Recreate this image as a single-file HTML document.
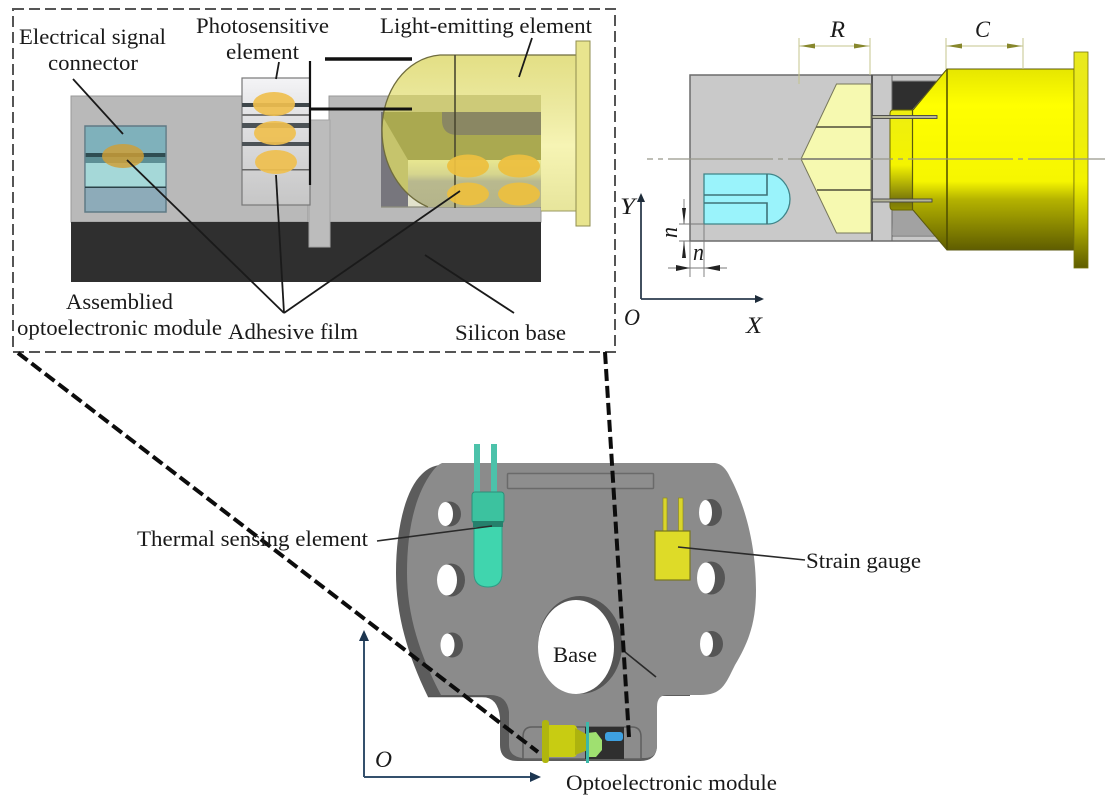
<!DOCTYPE html>
<html>
<head>
<meta charset="utf-8">
<style>
html,body{margin:0;padding:0;background:#fff;width:1107px;height:798px;overflow:hidden}
svg{display:block}
text{font-family:"Liberation Serif",serif;fill:#1a1a1a}
.t{font-size:22px}
.i{font-style:italic;font-size:23px}
</style>
</head>
<body>
<svg width="1107" height="798" viewBox="0 0 1107 798" xmlns="http://www.w3.org/2000/svg">
<defs>
<linearGradient id="yb" x1="0" y1="0" x2="0" y2="1">
<stop offset="0" stop-color="#e6e600"/><stop offset=".2" stop-color="#ffff00"/><stop offset=".62" stop-color="#f6f600"/><stop offset=".72" stop-color="#b5b300"/><stop offset="1" stop-color="#5f5d00"/>
</linearGradient>
<linearGradient id="yf" x1="0" y1="0" x2="0" y2="1">
<stop offset="0" stop-color="#e8e820"/><stop offset=".6" stop-color="#f2f200"/><stop offset=".8" stop-color="#b0ae00"/><stop offset="1" stop-color="#5f5d00"/>
</linearGradient>
<linearGradient id="yn" x1="0" y1="0" x2="0" y2="1">
<stop offset="0" stop-color="#eeee10"/><stop offset=".55" stop-color="#f4f400"/><stop offset=".9" stop-color="#77750a"/><stop offset="1" stop-color="#8f8d00"/>
</linearGradient>
<linearGradient id="ph" x1="0" y1="0" x2="0" y2="1">
<stop offset="0" stop-color="#f4f4f6"/><stop offset=".3" stop-color="#e2e2e4"/><stop offset="1" stop-color="#c6c6c6"/>
</linearGradient>
<linearGradient id="dome" x1="0" y1="0" x2="0" y2="1">
<stop offset="0" stop-color="#e2de82"/><stop offset=".35" stop-color="#ece9a0"/><stop offset=".58" stop-color="#f6f4b4"/><stop offset="1" stop-color="#e6e49a"/>
</linearGradient>
<linearGradient id="lit" x1="0" y1="0" x2="0" y2="1">
<stop offset="0" stop-color="#e8e790"/><stop offset=".3" stop-color="#d6d58e"/><stop offset=".45" stop-color="#b9b98e"/><stop offset="1" stop-color="#b4b48a"/>
</linearGradient>
<clipPath id="emit"><path d="M577 55H440C405 58 382 92 382 130C382 165 400 195 428 207H541V211H577Z"/></clipPath>
</defs>

<!-- ============ Left detail panel ============ -->
<rect x="71" y="96" width="237" height="126" fill="#b9b9b9" stroke="#999" stroke-width="1"/>
<rect x="329" y="96" width="212" height="126" fill="#b9b9b9" stroke="#999" stroke-width="1"/>
<rect x="308" y="120" width="21" height="102" fill="#b9b9b9"/>
<rect x="71" y="222" width="470" height="60" fill="#2f2f2f"/>
<rect x="309" y="120" width="21" height="127" fill="#bcbcbc" stroke="#a5a5a5"/>
<!-- pocket outside the dome -->
<rect x="381" y="112" width="27" height="95" fill="#77767d"/>
<rect x="408" y="160" width="30" height="47" fill="#e2e2cc"/>
<line x1="381" y1="207" x2="541" y2="207" stroke="#8c8c7c" stroke-width="1.200"/>
<!-- light emitter -->
<g clip-path="url(#emit)">
<rect x="375" y="50" width="205" height="165" fill="url(#dome)"/>
<rect x="375" y="95" width="166" height="17" fill="#cdca78"/>
<rect x="375" y="112" width="166" height="48" fill="#aaa950"/>
<path d="M450 112H541V135H458Q442 135 442 120V112Z" fill="#8a8763"/>
<polygon points="380,112 408,160 408,207 380,207" fill="#c6c46c"/>
<rect x="408" y="160" width="133" height="47" fill="url(#lit)"/>
</g>
<path d="M577 55H440C405 58 382 92 382 130C382 165 400 195 428 207" fill="none" stroke="#6f6c3e" stroke-width="1.300"/>
<line x1="577" y1="211" x2="541" y2="211" stroke="#9a9860" stroke-width="1"/>
<rect x="576" y="41" width="14" height="185" fill="#e8e48e" stroke="#8f8d50"/>
<line x1="455" y1="55" x2="455" y2="208" stroke="#4a4830" stroke-width="1.600"/>
<g fill="#ecbf40" fill-opacity=".94">
<ellipse cx="468" cy="166" rx="21" ry="11.500"/><ellipse cx="519" cy="166" rx="21" ry="11.500"/>
<ellipse cx="468" cy="194" rx="21" ry="11.500"/><ellipse cx="519" cy="194" rx="21" ry="11.500"/>
</g>
<!-- connector -->
<rect x="85" y="126" width="81" height="86" fill="#8dabb9" stroke="#5f7a85" stroke-width="1.500"/>
<rect x="85.700" y="127" width="79.600" height="26" fill="#7fb1bb"/>
<rect x="85.700" y="153" width="79.600" height="4" fill="#2f4d52"/>
<rect x="85.700" y="157" width="79.600" height="6" fill="#5d8f95"/>
<rect x="85.700" y="163" width="79.600" height="24" fill="#a5d8d8"/>
<rect x="85" y="186.500" width="81" height="1.500" fill="#2b4248"/>
<ellipse cx="123" cy="156" rx="21" ry="12" fill="#cf9f35" fill-opacity=".82"/>
<!-- photosensitive -->
<rect x="242" y="78" width="68" height="127" fill="url(#ph)" stroke="#777" stroke-width="1.200"/>
<rect x="242" y="103" width="68" height="4" fill="#3e464a"/>
<rect x="242" y="114" width="68" height="2" fill="#777"/>
<rect x="242" y="123" width="68" height="5" fill="#4c5256"/>
<rect x="242" y="142" width="68" height="4" fill="#4c5256"/>
<rect x="242" y="169" width="68" height="1.500" fill="#666"/>
<g fill="#efbf4e" fill-opacity=".92">
<ellipse cx="274" cy="104" rx="21" ry="12"/><ellipse cx="275" cy="133" rx="21" ry="12"/><ellipse cx="276" cy="162" rx="21" ry="12"/>
</g>
<!-- black bars -->
<line x1="310" y1="61" x2="310" y2="185" stroke="#111" stroke-width="2.200"/>
<line x1="325" y1="59" x2="412" y2="59" stroke="#111" stroke-width="3.500"/>
<line x1="310" y1="109" x2="412" y2="109" stroke="#111" stroke-width="3"/>
<!-- leaders -->
<g stroke="#1a1a1a" stroke-width="1.800" fill="none">
<line x1="73" y1="79" x2="123" y2="134"/>
<line x1="284" y1="313" x2="127" y2="160"/>
<line x1="284" y1="313" x2="276" y2="175"/>
<line x1="284" y1="313" x2="460" y2="191"/>
<line x1="279" y1="62" x2="276" y2="79"/>
<line x1="532" y1="38" x2="519" y2="77"/>
<line x1="425" y1="255" x2="514" y2="313"/>
</g>
<rect x="13" y="9" width="602" height="343" fill="none" stroke="#555" stroke-width="2" stroke-dasharray="11 5"/>
<text class="t" x="19" y="44" textLength="147" lengthAdjust="spacingAndGlyphs">Electrical signal</text>
<text class="t" x="48" y="70" textLength="90" lengthAdjust="spacingAndGlyphs">connector</text>
<text class="t" x="196" y="33" textLength="133" lengthAdjust="spacingAndGlyphs">Photosensitive</text>
<text class="t" x="226" y="59" textLength="73" lengthAdjust="spacingAndGlyphs">element</text>
<text class="t" x="380" y="33" textLength="212" lengthAdjust="spacingAndGlyphs">Light-emitting element</text>
<text class="t" x="66" y="309" textLength="107" lengthAdjust="spacingAndGlyphs">Assemblied</text>
<text class="t" x="17" y="335" textLength="205" lengthAdjust="spacingAndGlyphs">optoelectronic module</text>
<text class="t" x="228" y="339" textLength="130" lengthAdjust="spacingAndGlyphs">Adhesive film</text>
<text class="t" x="455" y="340" textLength="111" lengthAdjust="spacingAndGlyphs">Silicon base</text>

<!-- ============ Right panel ============ -->
<rect x="690" y="75" width="260" height="166" fill="#c9c9c9" stroke="#6c6c6c" stroke-width="1.500"/>
<polygon points="892,81 937,81 912,110 892,110" fill="#2f2f2f"/>
<polygon points="892,210 913,210 935,235 893,235" fill="#a2a2a2"/>
<line x1="892" y1="236" x2="945" y2="236" stroke="#666" stroke-width="1"/>
<line x1="892" y1="81" x2="940" y2="81" stroke="#888" stroke-width="1"/>
<line x1="872" y1="75" x2="872" y2="241" stroke="#555" stroke-width="2"/>
<line x1="892" y1="75" x2="892" y2="241" stroke="#666" stroke-width="1"/>
<!-- fins -->
<polygon points="836.500,84 871,84 871,233 836.500,233 801,159" fill="#f6f9b0" stroke="#77775a" stroke-width="1"/>
<g stroke="#66664a" stroke-width="1.800">
<line x1="816" y1="127" x2="871" y2="127"/>
<line x1="801" y1="159" x2="871" y2="159"/>
<line x1="817" y1="190" x2="871" y2="190"/>
</g>
<!-- blue element -->
<path d="M704 174H768C780 174 790 186 790 199C790 212 780 224 768 224H704Z" fill="#9af3fb"/>
<path d="M704 224V174H768C780 174 790 186 790 199C790 212 780 224 768 224H704" fill="none" stroke="#3f8488" stroke-width="1.300"/>
<path d="M704 195H767V174M704 203H767V224" fill="none" stroke="#3f7378" stroke-width="1.600"/>
<!-- yellow -->
<path d="M893 110Q890 110 890 114V206Q890 210 893 210H913V110Z" fill="url(#yn)" stroke="#6a6800" stroke-width="1"/>
<polygon points="947,69 913,110 913,210 947,250" fill="url(#yb)"/>
<rect x="947" y="69" width="127" height="181" fill="url(#yb)" stroke="#5b5a10" stroke-width="1"/>
<line x1="947" y1="69" x2="947" y2="250" stroke="#4d4c00" stroke-width="1.500"/>
<line x1="947" y1="69" x2="913" y2="110" stroke="#5b5a10" stroke-width="1"/>
<line x1="947" y1="250" x2="913" y2="210" stroke="#5b5a10" stroke-width="1"/>
<line x1="912.500" y1="110" x2="912.500" y2="210" stroke="#5b5a10" stroke-width="1.200"/>
<rect x="1074" y="52" width="14" height="216" fill="url(#yf)" stroke="#77750a" stroke-width=".8"/>
<!-- pins -->
<g fill="#b5b59a" stroke="#444" stroke-width=".9">
<rect x="872" y="115.500" width="65" height="3"/>
<rect x="872" y="199" width="60" height="3"/>
</g>
<!-- centreline -->
<line x1="647" y1="159" x2="1105" y2="159" stroke="#97978a" stroke-width="1.200" stroke-dasharray="105 5 5 5" stroke-dashoffset="99"/>
<!-- dims -->
<g stroke="#c4c48c" stroke-width="1" fill="none">
<path d="M799 38V84M870 38V75M946 38V69M1023 38V69M799 46H870M946 46H1023"/>
</g>
<g fill="#87872c">
<polygon points="800,46 815,43.500 815,48.500"/><polygon points="869,46 854,43.500 854,48.500"/>
<polygon points="947,46 962,43.500 962,48.500"/><polygon points="1022,46 1007,43.500 1007,48.500"/>
</g>
<text class="i" x="830" y="37" textLength="15" lengthAdjust="spacingAndGlyphs">R</text>
<text class="i" x="975" y="37" textLength="15" lengthAdjust="spacingAndGlyphs">C</text>
<!-- n dims -->
<g stroke="#777" stroke-width=".9" fill="none">
<path d="M679 224H704M679 241H690M690 241V277M704 224V277M684 199V224M684 241V258M668 268H727"/>
</g>
<g fill="#222">
<polygon points="684,224 682,208 686,208"/><polygon points="684,241 682,258 686,258"/>
<polygon points="690,268 676,265 676,271"/><polygon points="705,268 720,265 720,271"/>
</g>
<text class="i" x="693" y="260" style="font-size:24px" textLength="11" lengthAdjust="spacingAndGlyphs">n</text>
<text class="i" transform="translate(677,238) rotate(-90)" style="font-size:24px" textLength="11" lengthAdjust="spacingAndGlyphs">n</text>
<!-- axes -->
<path d="M641 299V196M641 299H760" stroke="#2d3d4e" stroke-width="1.800" fill="none"/>
<polygon points="641,193 637,202 645,202" fill="#1e2c3a"/>
<polygon points="764,299 755,295 755,303" fill="#1e2c3a"/>
<text class="i" x="620" y="214" textLength="15" lengthAdjust="spacingAndGlyphs">Y</text>
<text class="i" x="624" y="325" textLength="16" lengthAdjust="spacingAndGlyphs">O</text>
<text class="i" x="746" y="333" textLength="16" lengthAdjust="spacingAndGlyphs">X</text>

<!-- ============ Bottom plate ============ -->
<!-- dark side edge -->
<path d="M440 465L690 463V696H657V745Q657 761 640 761H518Q500 761 500 745V718Q498 697 482 697H428C405 650 396 610 396 573C396 530 405 490 422 474Q430 466 440 465Z" fill="#5c5c5c"/>
<!-- face -->
<path d="M442 463H715Q724 464 730 477C745 505 756 545 756 590C756 620 750 640 735 665C725 685 722 695 700 695H667Q657 695 657 707V745Q657 758 645 758H522Q509 756 509 745V712Q507 695 490 695H441C417 650 407 610 407 573C407 530 415 495 432 472Q437 465 442 463Z" fill="#8b8b8b"/>
<line x1="428" y1="696.500" x2="490" y2="696.500" stroke="#555" stroke-width="1.500"/>
<rect x="507.500" y="473.500" width="146" height="15" rx="1" fill="#8e8e8e" stroke="#6a6a6a" stroke-width="1.500"/>
<!-- holes -->
<g fill="#555">
<ellipse cx="449.500" cy="514" rx="11.500" ry="12.500"/><ellipse cx="451" cy="580" rx="14" ry="16.500"/><ellipse cx="452" cy="645" rx="11" ry="12.500"/>
<ellipse cx="710.500" cy="512.500" rx="11.500" ry="13.500"/><ellipse cx="711" cy="578" rx="14" ry="16.500"/><ellipse cx="711.500" cy="644" rx="11.500" ry="13"/>
<ellipse cx="580" cy="645" rx="42" ry="49"/>
</g>
<g fill="#fff">
<ellipse cx="445.500" cy="514" rx="7.500" ry="12"/><ellipse cx="447" cy="580" rx="10" ry="15.500"/><ellipse cx="447.500" cy="645" rx="7" ry="11.500"/>
<ellipse cx="705.500" cy="512.500" rx="6.500" ry="12.500"/><ellipse cx="706" cy="578" rx="9" ry="15.500"/><ellipse cx="706.500" cy="644" rx="6.500" ry="12"/>
<ellipse cx="576" cy="647" rx="38" ry="47"/>
</g>
<!-- thermal element -->
<g fill="#4cc2aa">
<rect x="474" y="444" width="6" height="48"/><rect x="491" y="444" width="6" height="48"/>
</g>
<path d="M474 525H502V573Q502 587 488 587Q474 587 474 573Z" fill="#40d5ae" stroke="#2d9d85" stroke-width="1"/>
<rect x="472" y="492" width="32" height="31" rx="3" fill="#3cc29f" stroke="#2b8f78" stroke-width="1"/>
<rect x="473" y="521" width="30" height="6" fill="#25806c"/>
<!-- strain -->
<g fill="#dad52b" stroke="#8f8c20" stroke-width=".7">
<rect x="663" y="498" width="4" height="33"/><rect x="678.500" y="498" width="4.500" height="33"/>
</g>
<rect x="655" y="531" width="35" height="49" fill="#dedb28" stroke="#78761e" stroke-width="1.200"/>
<!-- module -->
<path d="M532 727H632Q641 727 641 737V759H523V737Q523 727 532 727Z" fill="#8c8c8c" stroke="#5e5e5e" stroke-width="1.500"/>
<rect x="585" y="727" width="39" height="32" fill="#2f2f2f"/>
<rect x="546" y="725" width="31" height="32" rx="4" fill="#c8cc12"/>
<rect x="542" y="720" width="7" height="43" rx="3" fill="#b0b60e"/>
<polygon points="575,728 588,735 588,750 575,755" fill="#adb30e"/>
<path d="M587 733L596 732L602 740V750L596 757H587Z" fill="#9fe070"/>
<rect x="586" y="722" width="3" height="41" fill="#3cb8a8"/>
<rect x="605" y="732" width="18" height="9" rx="3" fill="#3ea0e0"/>
<!-- leaders -->
<g stroke="#2a2a2a" stroke-width="1.600" fill="none">
<line x1="377" y1="541" x2="492" y2="526"/>
<line x1="678" y1="547" x2="805" y2="560"/>
<line x1="625" y1="652" x2="656" y2="677"/>
</g>
<!-- axes -->
<path d="M364 777V634M364 777H536" stroke="#34506c" stroke-width="2" fill="none"/>
<polygon points="364,630 359,641 369,641" fill="#1c3550"/>
<polygon points="541,777 530,772 530,782" fill="#1c3550"/>
<!-- zoom dashed lines -->
<g stroke="#0c0c0c" stroke-width="4" stroke-dasharray="12 5" fill="none">
<line x1="18" y1="353" x2="538" y2="752"/>
<line x1="605" y1="352" x2="629" y2="737"/>
</g>
<text class="t" x="137" y="546" textLength="231" lengthAdjust="spacingAndGlyphs">Thermal sensing element</text>
<text class="t" x="806" y="568" textLength="115" lengthAdjust="spacingAndGlyphs">Strain gauge</text>
<text class="t" x="553" y="662" textLength="44" lengthAdjust="spacingAndGlyphs">Base</text>
<text class="t" x="566" y="790" textLength="211" lengthAdjust="spacingAndGlyphs">Optoelectronic module</text>
<text class="i" x="375" y="767" textLength="17" lengthAdjust="spacingAndGlyphs">O</text>
</svg>
</body>
</html>
